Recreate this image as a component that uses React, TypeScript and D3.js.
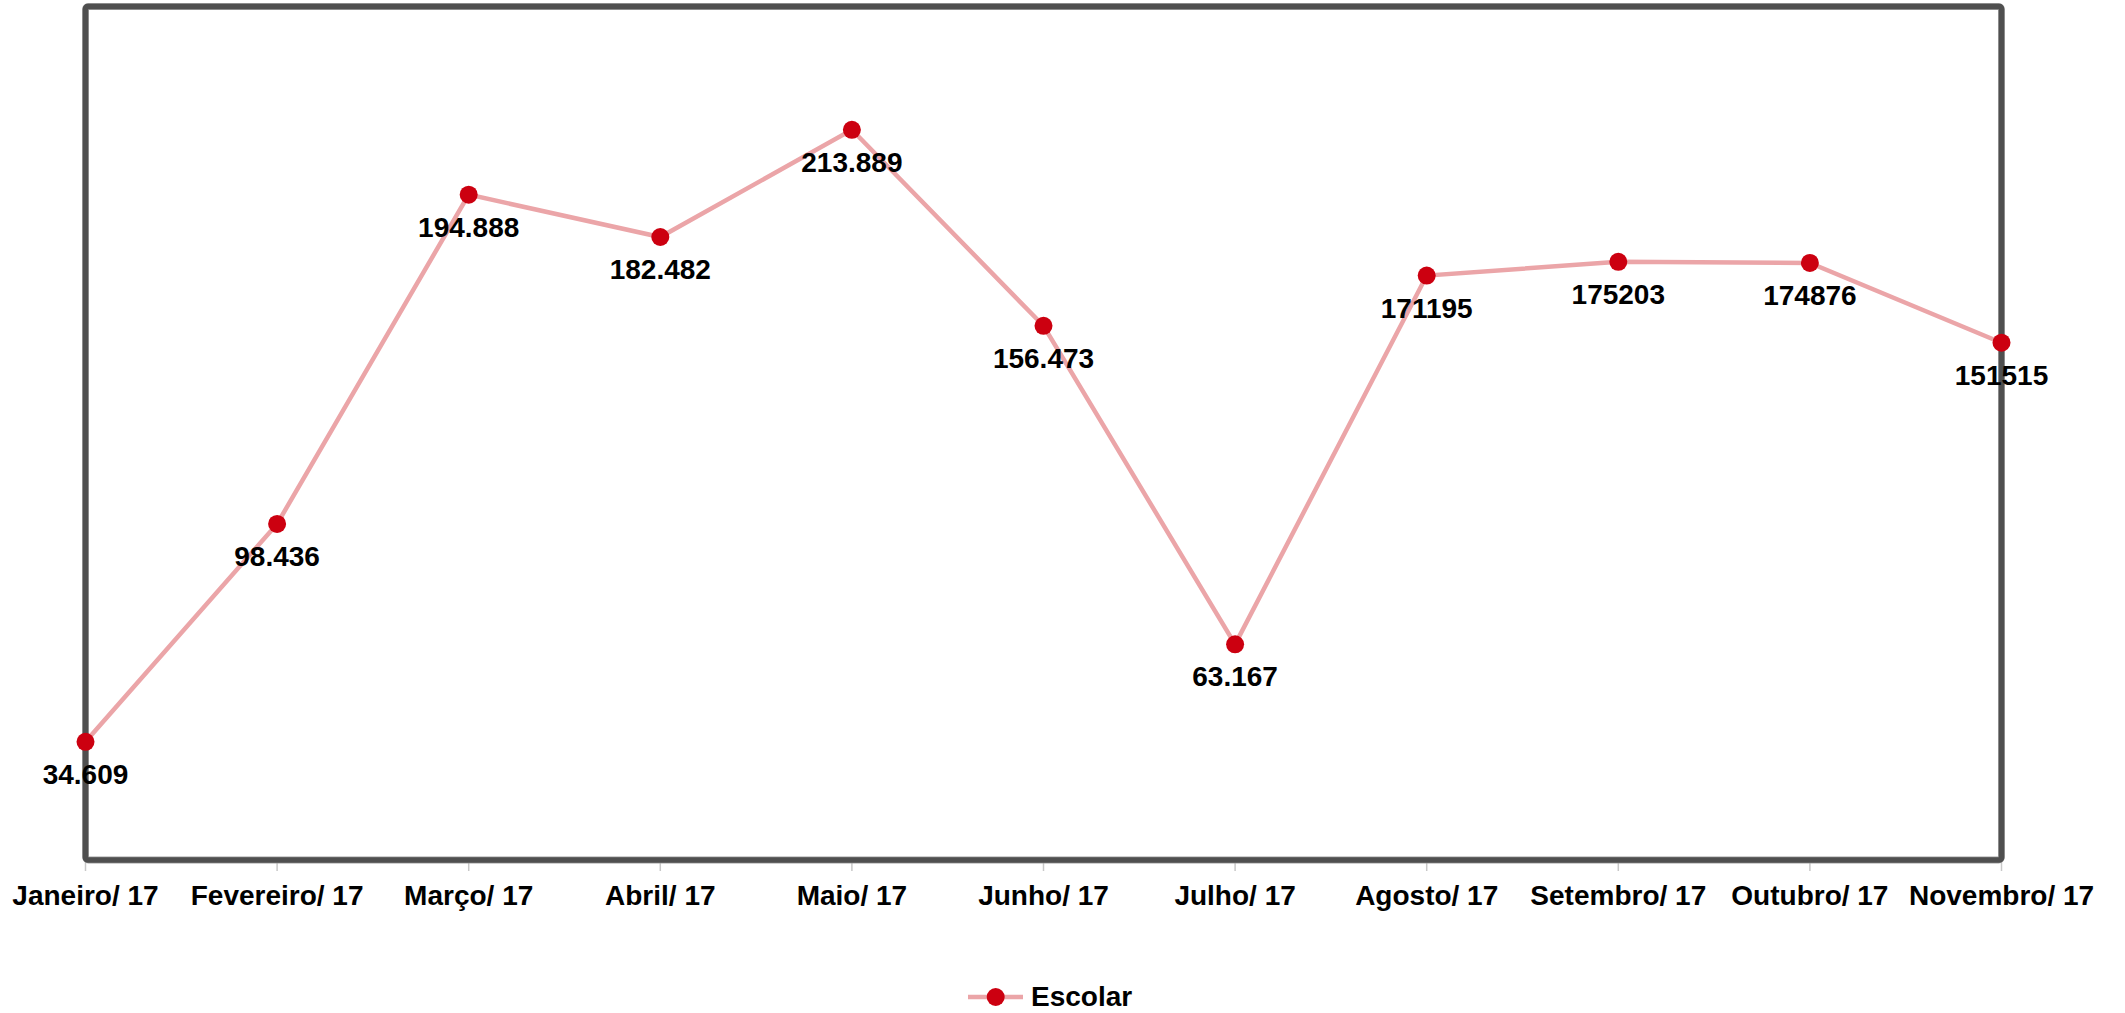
import React from "react";
import * as d3 from "d3";

const categories = [
  "Janeiro/ 17",
  "Fevereiro/ 17",
  "Março/ 17",
  "Abril/ 17",
  "Maio/ 17",
  "Junho/ 17",
  "Julho/ 17",
  "Agosto/ 17",
  "Setembro/ 17",
  "Outubro/ 17",
  "Novembro/ 17",
];
const values = [34609, 98436, 194888, 182482, 213889, 156473, 63167, 171195, 175203, 174876, 151515];
const valueLabels = [
  "34.609",
  "98.436",
  "194.888",
  "182.482",
  "213.889",
  "156.473",
  "63.167",
  "171195",
  "175203",
  "174876",
  "151515",
];
const seriesName = "Escolar";
const yDomain = [0, 250000];

const W = 2125;
const H = 1013;
const left = 85.5;
const right = 2001.5;
const top = 6.5;
const bottom = 860;
const font = "'Liberation Sans', Arial, sans-serif";
const lineColor = "#EBA5A8";
const dotColor = "#CC0010";
const frameColor = "#4F4F4F";

export default function App() {
  const x = d3.scalePoint<string>().domain(categories).range([left, right]);
  const y = d3.scaleLinear().domain(yDomain).range([bottom, top]);
  const line = d3
    .line<number>()
    .x((_, i) => x(categories[i]) as number)
    .y((d) => y(d));

  return (
    <svg
      width={W}
      height={H}
      style={{ position: "absolute", left: 0, top: 0, background: "#fff" }}
    >
      {/* light gray axis line and ticks */}
      <line x1={left} x2={right} y1={bottom + 2} y2={bottom + 2} stroke="#C8C8C8" strokeWidth={1.5} />
      {categories.map((c) => (
        <line
          key={"t" + c}
          x1={x(c)}
          x2={x(c)}
          y1={bottom}
          y2={bottom + 11}
          stroke="#C8C8C8"
          strokeWidth={1.5}
        />
      ))}
      {/* frame */}
      <rect
        x={left}
        y={top}
        width={right - left}
        height={bottom - top}
        fill="none"
        stroke="#A0A0A0"
        strokeWidth={7}
        rx={3}
      />
      <rect
        x={left}
        y={top}
        width={right - left}
        height={bottom - top}
        fill="none"
        stroke={frameColor}
        strokeWidth={5.5}
        rx={2}
      />
      {/* line */}
      <path d={line(values) || ""} fill="none" stroke={lineColor} strokeWidth={4.5} />
      {values.map((v, i) => (
        <circle key={"c" + i} cx={x(categories[i])} cy={y(v)} r={9} fill={dotColor} />
      ))}
      {values.map((v, i) => (
        <text
          key={"l" + i}
          x={x(categories[i])}
          y={y(v) + 42}
          textAnchor="middle"
          fontFamily={font}
          fontWeight="bold"
          fontSize={28}
          fill="#000"
        >
          {valueLabels[i]}
        </text>
      ))}
      {/* category labels */}
      {categories.map((c) => (
        <text
          key={"x" + c}
          x={x(c)}
          y={905}
          textAnchor="middle"
          fontFamily={font}
          fontWeight="bold"
          fontSize={28}
          fill="#000"
        >
          {c}
        </text>
      ))}
      {/* legend */}
      <line x1={968} x2={1023} y1={997} y2={997} stroke={lineColor} strokeWidth={4.5} />
      <circle cx={995.7} cy={997} r={9} fill={dotColor} />
      <text x={1031} y={1006} fontFamily={font} fontWeight="bold" fontSize={28} fill="#000">
        {seriesName}
      </text>
    </svg>
  );
}
